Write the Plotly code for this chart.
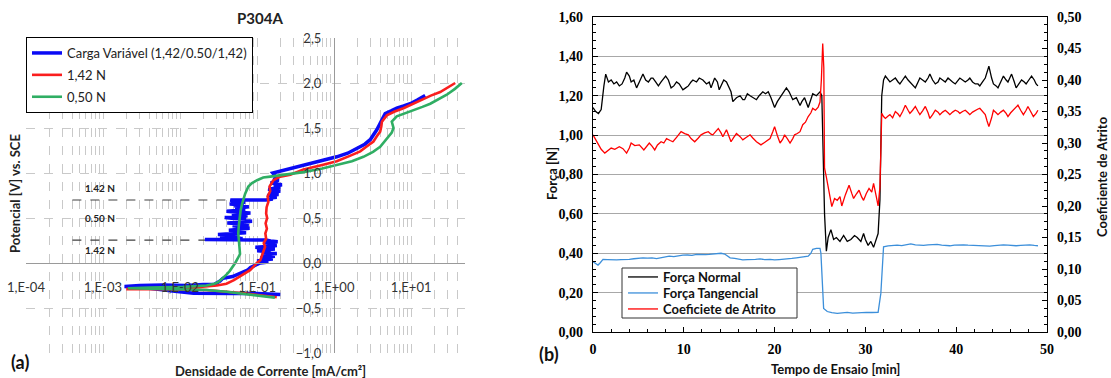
import math
import plotly.graph_objects as go

W, H = 1111, 378

# ---------------- Panel (a): polarisation curves ----------------
blue_i = [0.20, 0.15, 0.10, 0.05, 0.025, 0.015, 0.008, 0.004, 0.0019,
          0.003, 0.006, 0.012, 0.02, 0.028, 0.033, 0.036, 0.048, 0.06, 0.066, 0.075, 0.082, 0.095,
          0.11, 0.14, 0.10, 0.125, 0.16, 0.11, 0.13, 0.17, 0.12, 0.145, 0.18, 0.115, 0.15, 0.10,
          0.14, 0.17, 0.12, 0.095, 0.15, 0.18, 0.13, 0.16, 0.12, 0.185, 0.15, 0.13,
          0.021, 0.04, 0.065, 0.045, 0.058, 0.033, 0.05, 0.031, 0.062, 0.072, 0.05, 0.068, 0.043,
          0.06, 0.08, 0.055, 0.07, 0.048, 0.078, 0.06, 0.041, 0.066, 0.086, 0.058, 0.072, 0.05,
          0.038, 0.062, 0.075, 0.047, 0.066, 0.082, 0.055, 0.04, 0.06, 0.07, 0.052, 0.064, 0.078,
          0.05, 0.067, 0.044, 0.058, 0.07, 0.05, 0.046, 0.045,
          0.13, 0.16, 0.14, 0.18, 0.15, 0.135, 0.19, 0.16, 0.145, 0.175, 0.20, 0.15, 0.14, 0.17,
          0.20, 0.165, 0.18, 0.21, 0.17, 0.15, 0.165, 0.19, 0.17, 0.175, 0.16,
          0.25, 0.40, 0.70, 1.08, 1.5, 1.97, 2.5, 2.94, 3.3, 3.58, 3.9, 4.17, 4.6, 5.5, 6.5, 8.0,
          9.7, 12.0, 15.2]
blue_v = [-0.35, -0.345, -0.34, -0.338, -0.336, -0.335, -0.31, -0.28, -0.26,
          -0.25, -0.245, -0.25, -0.24, -0.235, -0.20, -0.17, -0.15, -0.12, -0.10, -0.08, -0.05, -0.02,
          0.0, 0.012, 0.022, 0.035, 0.045, 0.055, 0.065, 0.075, 0.085, 0.095, 0.105, 0.115, 0.125, 0.135,
          0.145, 0.155, 0.165, 0.175, 0.185, 0.195, 0.205, 0.215, 0.225, 0.235, 0.245, 0.255,
          0.26, 0.265, 0.272, 0.28, 0.29, 0.30, 0.31, 0.318, 0.325, 0.335, 0.345, 0.355, 0.365,
          0.375, 0.385, 0.395, 0.405, 0.415, 0.425, 0.435, 0.445, 0.455, 0.465, 0.475, 0.485, 0.495,
          0.505, 0.515, 0.525, 0.535, 0.545, 0.555, 0.565, 0.575, 0.585, 0.595, 0.605, 0.615, 0.625,
          0.635, 0.645, 0.655, 0.665, 0.675, 0.685, 0.695, 0.70,
          0.70, 0.71, 0.72, 0.73, 0.74, 0.75, 0.76, 0.77, 0.78, 0.79, 0.80, 0.81, 0.82, 0.83,
          0.84, 0.85, 0.86, 0.87, 0.88, 0.89, 0.90, 0.92, 0.94, 0.96, 1.0,
          1.04, 1.09, 1.14, 1.18, 1.22, 1.27, 1.32, 1.37, 1.43, 1.48, 1.54, 1.59, 1.66, 1.69, 1.72, 1.745,
          1.77, 1.81, 1.86]

red_i = [0.18, 0.12, 0.073, 0.04, 0.022, 0.0067, 0.002, 0.005, 0.01, 0.018, 0.03, 0.04, 0.05,
         0.06, 0.07, 0.081, 0.09, 0.099, 0.11, 0.115, 0.12, 0.127, 0.122, 0.131, 0.128, 0.134,
         0.129, 0.135, 0.131, 0.133, 0.14, 0.137, 0.148, 0.145, 0.163, 0.2, 0.27, 0.40, 0.7,
         1.08, 1.6, 2.18, 2.7, 3.24, 3.6, 3.96, 4.1, 4.17, 4.83, 6.0, 7.94, 10.0, 13.1, 18.0,
         23.8, 30.0, 37.3]
red_v = [-0.38, -0.36, -0.34, -0.32, -0.30, -0.29, -0.29, -0.28, -0.275, -0.265, -0.25, -0.23, -0.19,
         -0.15, -0.11, -0.08, -0.04, 0.0, 0.03, 0.07, 0.12, 0.18, 0.22, 0.27, 0.33, 0.38,
         0.44, 0.50, 0.55, 0.62, 0.68, 0.74, 0.80, 0.85, 0.92, 0.96, 0.98, 1.04, 1.09,
         1.13, 1.19, 1.24, 1.30, 1.35, 1.41, 1.46, 1.52, 1.57, 1.64, 1.68, 1.72, 1.76, 1.81, 1.86,
         1.90, 1.95, 2.0]

green_i = [0.17, 0.11, 0.073, 0.04, 0.022, 0.0067, 0.0021, 0.004, 0.011, 0.022, 0.028, 0.0315,
           0.036, 0.04, 0.044, 0.048, 0.052, 0.056, 0.06, 0.059, 0.058, 0.057, 0.058, 0.059,
           0.061, 0.064, 0.07, 0.077, 0.085, 0.10, 0.12, 0.148, 0.2, 0.40, 0.7, 1.08, 1.7, 2.4,
           3.2, 3.96, 4.5, 5.07, 5.6, 5.9, 5.6, 6.5, 8.5, 10.7, 14.0, 17.7, 23.0, 29.0, 37.0, 45.5]
green_v = [-0.385, -0.365, -0.345, -0.32, -0.30, -0.29, -0.28, -0.272, -0.265, -0.25, -0.23, -0.21,
           -0.17, -0.13, -0.09, -0.05, 0.0, 0.05, 0.10, 0.18, 0.25, 0.33, 0.42, 0.50,
           0.58, 0.66, 0.77, 0.85, 0.886, 0.92, 0.95, 0.96, 0.975, 1.01, 1.05, 1.09, 1.13, 1.18,
           1.235, 1.29, 1.345, 1.40, 1.45, 1.50, 1.57, 1.63, 1.665, 1.70, 1.735, 1.77, 1.82, 1.87, 1.935, 2.0]

load_lines_v = [0.70, 0.255]
load_lines_i = [0.0004, 0.14]
load_labels = ["1.42 N", "0.50 N", "1.42 N"]
load_label_v = [0.833, 0.50, 0.144]
load_label_i = 0.00055

xa_tickvals = [1e-4, 1e-3, 1e-2, 1e-1, 1e0, 1e1]
xa_ticktext = ["1,E-04", "1,E-03", "1,E-02", "1,E-01", "1,E+00", "1,E+01"]
xa_minor = [k * 10.0 ** d for d in range(-4, 2) for k in range(2, 10) if k * 10.0 ** d <= 50]

# ---------------- Panel (b): friction test ----------------
fn_t = [0.0, 0.3, 0.6, 0.9, 1.2, 1.4, 1.7, 2.0, 2.3, 2.6, 2.9, 3.2, 3.5, 3.7, 4.0, 4.2, 4.5, 4.8,
        5.1, 5.5, 5.8, 6.1, 6.4, 6.6, 6.9, 7.2, 7.5, 8.0, 8.3, 8.6, 8.9, 9.2, 9.5, 9.9, 10.2, 10.5,
        10.8, 11.0, 11.4, 11.7, 12.1, 12.5, 12.8, 13.0, 13.4, 13.7, 13.9, 14.2, 14.4, 14.7, 15.0,
        15.2, 15.4, 15.8, 16.2, 16.5, 16.7, 17.0, 17.3, 17.6, 18.0, 18.3, 18.7, 19.0, 19.3, 19.6,
        20.0, 20.3, 20.6, 20.9, 21.3, 21.6, 22.0, 22.4, 22.8, 23.0, 23.3, 23.7, 24.0, 24.2, 24.6,
        25.0, 25.2, 25.35, 25.5, 25.7, 25.9, 26.2, 26.5, 26.8, 27.2, 27.6, 28.0, 28.4, 28.8, 29.1,
        29.5, 29.8, 30.0, 30.3, 30.6, 30.9, 31.2, 31.4, 31.6, 31.8, 32.0, 32.2, 32.7, 33.0, 33.3,
        33.6, 33.8, 34.1, 34.4, 34.7, 34.9, 35.2, 35.5, 35.8, 36.0, 36.3, 36.6, 36.9, 37.1, 37.4,
        37.7, 38.0, 38.2, 38.5, 38.8, 39.1, 39.3, 39.6, 39.9, 40.2, 40.4, 40.7, 41.0, 41.3, 41.5,
        41.8, 42.1, 42.4, 42.6, 42.9, 43.2, 43.4, 43.6, 43.9, 44.1, 44.4, 44.6, 44.9, 45.2, 45.5,
        45.7, 45.9, 46.1, 46.4, 46.6, 46.9, 47.2, 47.5, 47.7, 48.0, 48.3, 48.6, 48.8, 49.0]
fn_v = [1.14, 1.12, 1.11, 1.13, 1.25, 1.31, 1.27, 1.28, 1.26, 1.27, 1.25, 1.26, 1.29, 1.32, 1.30, 1.27, 1.28, 1.24,
        1.27, 1.31, 1.28, 1.27, 1.29, 1.29, 1.27, 1.25, 1.27, 1.30, 1.28, 1.24, 1.25, 1.27, 1.26, 1.23, 1.24, 1.25,
        1.27, 1.28, 1.27, 1.29, 1.28, 1.26, 1.27, 1.24, 1.29, 1.27, 1.23, 1.26, 1.28, 1.27, 1.24,
        1.22, 1.17, 1.19, 1.20, 1.18, 1.18, 1.21, 1.20, 1.19, 1.18, 1.20, 1.22, 1.21, 1.22, 1.19,
        1.14, 1.17, 1.19, 1.21, 1.24, 1.22, 1.18, 1.19, 1.15, 1.17, 1.19, 1.14, 1.18, 1.21, 1.20,
        1.22, 1.20, 0.90, 0.60, 0.41, 0.48, 0.52, 0.47, 0.48, 0.46, 0.49, 0.46, 0.47, 0.49, 0.48,
        0.46, 0.50, 0.47, 0.44, 0.46, 0.43, 0.47, 0.50, 0.67, 1.20, 1.28, 1.30, 1.27, 1.28, 1.29,
        1.27, 1.26, 1.28, 1.30, 1.28, 1.27, 1.26, 1.24, 1.27, 1.29, 1.28, 1.27, 1.29, 1.31, 1.28,
        1.26, 1.27, 1.29, 1.28, 1.27, 1.29, 1.28, 1.27, 1.26, 1.28, 1.29, 1.28, 1.27, 1.28, 1.29,
        1.27, 1.26, 1.26, 1.25, 1.27, 1.29, 1.32, 1.35, 1.29, 1.26, 1.25, 1.24, 1.27, 1.30, 1.28,
        1.27, 1.29, 1.31, 1.27, 1.24, 1.26, 1.28, 1.27, 1.26, 1.28, 1.30, 1.28, 1.26, 1.25]

ft_t = [0.0, 0.3, 0.55, 0.8, 1.1, 1.6, 2.1, 2.6, 3.1, 3.6, 4.0, 4.5, 5.0, 5.5, 6.0, 6.5, 7.0, 7.5,
        8.0, 8.4, 8.9, 9.4, 9.9, 10.4, 10.9, 11.4, 11.9, 12.4, 12.8, 13.3, 13.7, 14.1, 14.5, 14.8,
        15.1, 15.6, 16.0, 16.5, 17.0, 17.5, 17.9, 18.4, 18.9, 19.5, 20.0, 20.5, 20.9, 21.4, 21.9,
        22.4, 22.9, 23.3, 23.7, 24.0, 24.2, 24.6, 25.0, 25.1, 25.25, 25.4, 25.8, 26.3, 26.9, 27.5,
        28.0, 28.6, 29.1, 29.6, 30.1, 30.7, 31.4, 31.7, 32.0, 32.5, 33.0, 33.5, 34.0, 34.5, 35.0,
        35.5, 36.0, 36.4, 36.9, 37.4, 37.9, 38.4, 38.8, 39.3, 39.8, 40.3, 40.8, 41.3, 41.8, 42.3,
        42.8, 43.2, 43.7, 44.2, 44.7, 45.2, 45.7, 46.1, 46.6, 47.1, 47.6, 48.1, 48.6, 49.0]
ft_v = [0.357, 0.345, 0.340, 0.352, 0.369, 0.368, 0.366, 0.366, 0.368, 0.367, 0.369, 0.372, 0.374, 0.377, 0.375, 0.376, 0.373, 0.378,
        0.382, 0.385, 0.383, 0.388, 0.390, 0.391, 0.389, 0.394, 0.392, 0.393, 0.394, 0.396, 0.397, 0.400, 0.396, 0.386,
        0.377, 0.374, 0.372, 0.366, 0.368, 0.367, 0.369, 0.371, 0.368, 0.369, 0.366, 0.368, 0.369, 0.373, 0.374,
        0.377, 0.380, 0.381, 0.385, 0.400, 0.420, 0.425, 0.425, 0.400, 0.28, 0.12, 0.104, 0.098, 0.095, 0.097,
        0.100, 0.096, 0.098, 0.097, 0.100, 0.099, 0.100, 0.196, 0.433, 0.437, 0.440, 0.441, 0.439, 0.444, 0.448,
        0.443, 0.441, 0.440, 0.443, 0.444, 0.445, 0.441, 0.439, 0.438, 0.441, 0.443, 0.443, 0.441, 0.440, 0.440,
        0.438, 0.437, 0.436, 0.439, 0.442, 0.443, 0.441, 0.439, 0.438, 0.440, 0.442, 0.443, 0.440, 0.438]

mu_t = [0.0, 0.3, 0.6, 0.9, 1.3, 1.7, 2.0, 2.4, 2.9, 3.3, 3.7, 4.0, 4.2, 4.6, 5.1, 5.6, 5.9, 6.2,
        6.5, 6.8, 7.1, 7.5, 7.8, 8.1, 8.5, 8.8, 9.2, 9.7, 10.1, 10.5, 10.8, 11.2, 11.6, 11.9, 12.3,
        12.7, 13.0, 13.2, 13.5, 13.8, 14.1, 14.3, 14.7, 15.0, 15.2, 15.5, 15.8, 16.2, 16.5, 16.9,
        17.3, 17.6, 18.0, 18.5, 18.9, 19.2, 19.5, 19.8, 20.0, 20.3, 20.6, 20.9, 21.1, 21.4, 21.7,
        22.0, 22.2, 22.5, 22.8, 23.1, 23.4, 23.7, 24.0, 24.2, 24.5, 24.8, 25.0, 25.15, 25.3, 25.42,
        25.5, 25.7, 26.0, 26.3, 26.6, 26.9, 27.2, 27.4, 27.8, 28.2, 28.5, 28.7, 29.0, 29.3, 29.6,
        29.8, 30.1, 30.4, 30.7, 30.9, 31.2, 31.4, 31.6, 31.8, 32.0, 32.2, 32.5, 32.7, 33.0, 33.3,
        33.6, 33.8, 34.1, 34.4, 34.7, 34.9, 35.2, 35.5, 35.8, 36.0, 36.3, 36.6, 36.9, 37.1, 37.4,
        37.7, 38.0, 38.2, 38.5, 38.8, 39.1, 39.3, 39.6, 39.9, 40.2, 40.4, 40.7, 41.0, 41.3, 41.5,
        41.8, 42.1, 42.4, 42.6, 42.9, 43.2, 43.4, 43.6, 43.9, 44.1, 44.4, 44.6, 44.9, 45.2, 45.5,
        45.7, 46.0, 46.3, 46.6, 46.8, 47.1, 47.4, 47.7, 47.9, 48.2, 48.5, 48.8, 49.0]
mu_v = [0.313, 0.305, 0.298, 0.290, 0.284, 0.289, 0.292, 0.290, 0.294, 0.291, 0.284, 0.292, 0.300, 0.296, 0.297, 0.289, 0.295, 0.300,
        0.295, 0.289, 0.297, 0.302, 0.300, 0.307, 0.304, 0.302, 0.309, 0.318, 0.315, 0.313, 0.307, 0.302, 0.308, 0.313, 0.316,
        0.318, 0.314, 0.313, 0.318, 0.323, 0.316, 0.310, 0.321, 0.310, 0.302, 0.309, 0.315, 0.310, 0.305, 0.309,
        0.313, 0.308, 0.302, 0.297, 0.301, 0.305, 0.307, 0.318, 0.326, 0.312, 0.300, 0.306, 0.313, 0.307, 0.300,
        0.307, 0.313, 0.315, 0.318, 0.329, 0.333, 0.342, 0.348, 0.355, 0.352, 0.357, 0.365, 0.40, 0.458, 0.42,
        0.26, 0.246, 0.225, 0.199, 0.212, 0.209, 0.215, 0.200, 0.218, 0.233, 0.220, 0.212, 0.219, 0.225, 0.214,
        0.209, 0.220, 0.228, 0.222, 0.236, 0.215, 0.200, 0.230, 0.347, 0.342, 0.339, 0.343, 0.345, 0.340, 0.350,
        0.346, 0.342, 0.350, 0.360, 0.352, 0.347, 0.352, 0.358, 0.350, 0.345, 0.351, 0.358, 0.348, 0.339, 0.345,
        0.352, 0.349, 0.345, 0.349, 0.352, 0.348, 0.345, 0.349, 0.352, 0.350, 0.347, 0.350, 0.352, 0.348, 0.345,
        0.349, 0.352, 0.354, 0.355, 0.350, 0.345, 0.335, 0.326, 0.340, 0.352, 0.348, 0.345, 0.349, 0.352, 0.347,
        0.342, 0.348, 0.352, 0.357, 0.360, 0.352, 0.345, 0.352, 0.358, 0.350, 0.342, 0.347, 0.352]


def px(x):
    return x / W


def py(y):
    return 1 - y / H


SANS = "Lato"
fig = go.Figure()

# load-change dashed markers (panel a)
for v in load_lines_v:
    fig.add_trace(go.Scatter(x=load_lines_i, y=[v, v], mode="lines", xaxis="x", yaxis="y",
                             line=dict(color="#404040", width=1.2, dash="dash"),
                             showlegend=False, hoverinfo="skip"))

fig.add_trace(go.Scatter(x=blue_i, y=blue_v, mode="lines", name="Carga Variável (1,42/0.50/1,42)",
                         line=dict(color="#0A0AF5", width=3.5), xaxis="x", yaxis="y",
                         legend="legend", legendgroup="a1"))
fig.add_trace(go.Scatter(x=red_i, y=red_v, mode="lines", name="1,42 N",
                         line=dict(color="#FA1E1E", width=2.6), xaxis="x", yaxis="y",
                         legend="legend", legendgroup="a2"))
fig.add_trace(go.Scatter(x=green_i, y=green_v, mode="lines", name="0,50 N",
                         line=dict(color="#2FAE63", width=2.6), xaxis="x", yaxis="y",
                         legend="legend", legendgroup="a3"))

fig.add_trace(go.Scatter(x=fn_t, y=fn_v, mode="lines", name="Força Normal",
                         line=dict(color="black", width=1.3), xaxis="x2", yaxis="y2",
                         legend="legend2"))
fig.add_trace(go.Scatter(x=ft_t, y=ft_v, mode="lines", name="Força Tangencial",
                         line=dict(color="#3C8FDA", width=1.3), xaxis="x2", yaxis="y2",
                         legend="legend3"))
fig.add_trace(go.Scatter(x=mu_t, y=mu_v, mode="lines", name="Coeficiete de Atrito",
                         line=dict(color="#FF0000", width=1.3), xaxis="x2", yaxis="y3",
                         legend="legend4"))

grid_a = "#C9C9C9"
axis_a = "#9A9A9A"
tick_a_font = dict(family=SANS, size=13, color="#333333")
serif_b = dict(family="Liberation Serif", size=14, color="black", weight="bold")


def ann(text, x, y, size=13, angle=0, color="#111"):
    return dict(text=text, x=px(x), y=py(y), xref="paper", yref="paper", showarrow=False,
                xanchor="center", yanchor="middle", textangle=angle,
                font=dict(family=SANS, size=size, color=color))


annotations = [
    ann("<b>P304A</b>", 260, 18, 15, color="#222"),
    ann("<b>Potencial [V] vs. SCE</b>", 15, 194, 13, -90, "#222"),
    ann("<b>Densidade de Corrente [mA/cm²]</b>", 270, 371, 13, color="#222"),
    ann("<b>(a)</b>", 20, 362, 18),
    ann("<b>Força [N]</b>", 552, 174, 13, -90),
    ann("<b>Coeficiente de Atrito</b>", 1102, 177, 13, -90),
    ann("<b>Tempo de Ensaio [min]</b>", 835, 369, 13),
    ann("<b>(b)</b>", 549, 354, 18),
]
for lab, v in zip(load_labels, load_label_v):
    annotations.append(dict(text="<b>" + lab + "</b>", x=math.log10(load_label_i), y=v, xref="x", yref="y",
                            xanchor="left", yanchor="middle", showarrow=False,
                            font=dict(family=SANS, size=10, color="#222")))

leg_b = dict(xanchor="left", yanchor="middle", bgcolor="rgba(0,0,0,0)", borderwidth=0,
             font=dict(family=SANS, size=13, color="#111", weight="bold"))

fig.update_layout(
    width=W, height=H, margin=dict(l=0, r=0, t=0, b=0, pad=0, autoexpand=False),
    paper_bgcolor="white", plot_bgcolor="white",
    separators=",.",
    xaxis=dict(domain=[px(26), px(465)], type="log", range=[-4, math.log10(50)],
               anchor="free", position=py(263), automargin=False,
               tickmode="array", tickvals=xa_tickvals, ticktext=xa_ticktext,
               ticks="", ticklabelstandoff=12, tickfont=tick_a_font,
               showline=True, linecolor=axis_a, linewidth=1,
               showgrid=True, gridcolor=grid_a, griddash="dash", gridwidth=1,
               minor=dict(tickmode="array", tickvals=xa_minor, showgrid=True,
                          gridcolor=grid_a, griddash="dash", gridwidth=1, ticks=""),
               zeroline=False),
    yaxis=dict(domain=[py(353), py(38)], range=[-1.0, 2.5], anchor="free", position=px(334),
               automargin=False,
               tickmode="linear", tick0=0, dtick=0.5, tickformat=".1f",
               ticks="", ticklabelstandoff=10, tickfont=tick_a_font,
               showline=True, linecolor=axis_a, linewidth=1,
               showgrid=True, gridcolor=grid_a, griddash="dash", gridwidth=1,
               zeroline=False),
    xaxis2=dict(domain=[px(593), px(1047)], range=[0, 50], anchor="y2", automargin=False,
                tickmode="linear", tick0=0, dtick=10, ticks="inside", ticklen=5, tickcolor="black",
                minor=dict(dtick=2, ticks="inside", ticklen=3, tickcolor="black"),
                tickfont=serif_b, ticklabelstandoff=4,
                showline=True, linecolor="black", linewidth=1.2, mirror=True,
                showgrid=False, zeroline=False),
    yaxis2=dict(domain=[py(332), py(17)], range=[0, 1.6], anchor="x2", automargin=False,
                tickmode="linear", tick0=0, dtick=0.2, tickformat=".2f",
                ticks="inside", ticklen=5, tickcolor="black",
                minor=dict(dtick=0.04, ticks="inside", ticklen=3, tickcolor="black"),
                tickfont=serif_b, ticklabelstandoff=6,
                showline=True, linecolor="black", linewidth=1.2,
                showgrid=True, gridcolor="#A8A8A8", gridwidth=1, zeroline=False),
    yaxis3=dict(overlaying="y2", side="right", anchor="x2", range=[0, 0.5], automargin=False,
                tickmode="linear", tick0=0, dtick=0.05, tickformat=".2f",
                ticks="inside", ticklen=5, tickcolor="black",
                minor=dict(dtick=0.0125, ticks="inside", ticklen=3, tickcolor="black"),
                tickfont=serif_b, ticklabelstandoff=6,
                showline=True, linecolor="black", linewidth=1.2,
                showgrid=False, zeroline=False),
    legend=dict(x=px(26), y=py(37), xanchor="left", yanchor="top", bgcolor="white",
                bordercolor="black", borderwidth=1, tracegroupgap=2,
                font=dict(family=SANS, size=13, color="#222")),
    legend2=dict(x=px(623), y=py(277), **leg_b),
    legend3=dict(x=px(623), y=py(293), **leg_b),
    legend4=dict(x=px(623), y=py(309), **leg_b),
    shapes=[dict(type="rect", xref="paper", yref="paper", x0=px(622), x1=px(797), y0=py(318), y1=py(268),
                 line=dict(color="#333", width=1), fillcolor="white", layer="above")],
    annotations=annotations,
    showlegend=True,
)

fig.write_html("out.html", config={"displayModeBar": False},
               post_script="document.body.style.margin='0';document.body.style.padding='0';")
